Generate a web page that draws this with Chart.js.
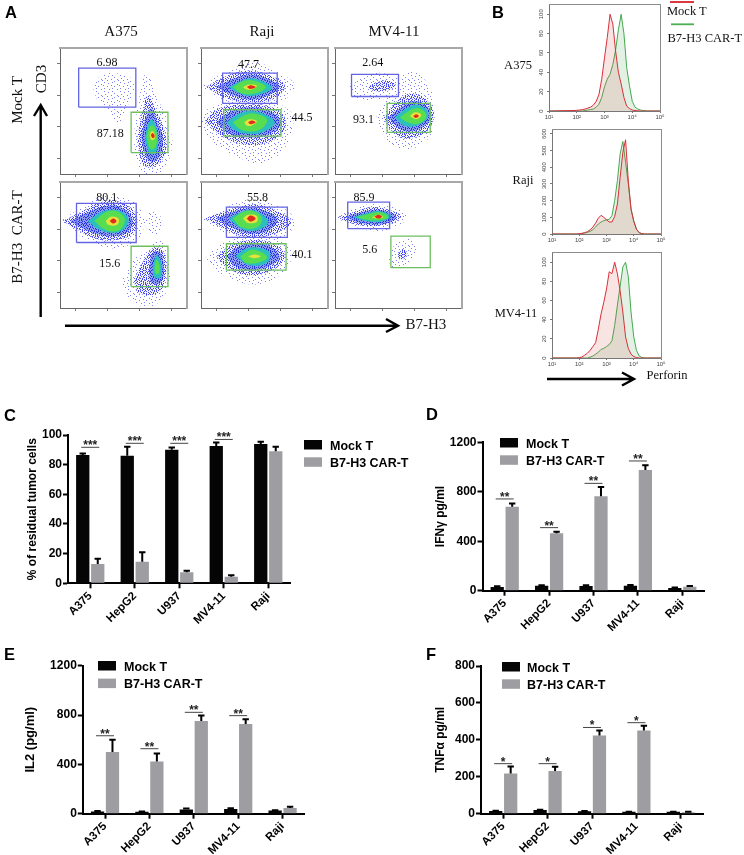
<!DOCTYPE html>
<html>
<head>
<meta charset="utf-8">
<title>B7-H3 CAR-T</title>
<script src="https://cdn.jsdelivr.net/npm/chart.js@4"></script>
<style>
  html, body { margin: 0; background: #fff; }
  #page { position: relative; width: 744px; height: 855px; overflow: hidden; }
  canvas { position: absolute; filter: blur(.4px); }
  svg { position: absolute; left: 0; top: 0; filter: blur(.3px); }
  .serif { font: 12.5px "Liberation Serif"; fill: #111; }
  .big { font-size: 15px; }
  .tag { font: bold 16.5px "Liberation Sans"; fill: #000; }
</style>
</head>
<body>
<div id="page">
<svg width="744" height="855">
  <text class="tag" x="5" y="18">A</text>
  <text class="tag" x="492" y="18">B</text>
  <text class="tag" x="4" y="421">C</text>
  <text class="tag" x="426" y="420">D</text>
  <text class="tag" x="4" y="660">E</text>
  <text class="tag" x="426" y="660">F</text>

  <text class="serif big" x="121" y="36" text-anchor="middle">A375</text>
  <text class="serif big" x="262" y="36" text-anchor="middle">Raji</text>
  <text class="serif big" x="394" y="36" text-anchor="middle">MV4-11</text>
  <text class="serif big" transform="translate(22,100) rotate(-90)" text-anchor="middle">Mock T</text>
  <text class="serif big" transform="translate(22,237) rotate(-90)" text-anchor="middle" xml:space="preserve">B7-H3  CAR-T</text>
  <text class="serif big" transform="translate(46,79) rotate(-90)" text-anchor="middle">CD3</text>
  <text class="serif big" x="405.5" y="329">B7-H3</text>

  <g stroke="#000" stroke-width="2.4" fill="none">
    <path d="M40.7 317V105M34 116L40.7 105L47 116"/>
    <path d="M65 325.7H398M386 319L398 325.7L386 332"/>
    <path d="M547 379H634M622 372.5L634 379L622 385.5"/>
  </g>

  <text class="serif" x="518" y="69" text-anchor="middle">A375</text>
  <text class="serif" x="523" y="184" text-anchor="middle">Raji</text>
  <text class="serif" x="516" y="317" text-anchor="middle">MV4-11</text>
  <text class="serif" x="667" y="15">Mock T</text>
  <text class="serif" x="667.5" y="42">B7-H3 CAR-T</text>
  <text class="serif" x="646.5" y="379">Perforin</text>
  <path d="M670 2H694" stroke="#d8232a" stroke-width="1.8"/>
  <path d="M671 24.3H694" stroke="#4caf50" stroke-width="1.8"/>
</svg>
</div>

<script>
// bar panels
const cellLines = ['A375', 'HepG2', 'U937', 'MV4-11', 'Raji']

const lysisMock = [86.5, 86, 90, 92.5, 94]
const lysisMockErr = [1, 6, 1.5, 2.5, 1.5]
const lysisCar = [13, 14.5, 7.5, 4.5, 89]
const lysisCarErr = [3.5, 6.5, 1, 1, 3]
const lysisSig = [91.7, 94.4, 94.4, 97]

const ifnMock = [30, 40, 38, 40, 22]
const ifnMockErr = [5, 4, 6, 6, 3]
const ifnCar = [679, 464, 763, 976, 32]
const ifnCarErr = [26, 13, 76, 38, 6]
const ifnSig = [742, 510, 868, 1049]

const il2Mock = [17, 15, 35, 38, 25]
const il2MockErr = [4, 3, 8, 6, 2]
const il2Car = [500, 424, 751, 727, 46]
const il2CarErr = [100, 65, 46, 38, 10]
const il2Sig = [632, 527, 822, 795]

const tnfMock = [14, 20, 13, 10, 10]
const tnfMockErr = [2, 2, 2, 1, 1]
const tnfCar = [218, 231, 424, 451, 8]
const tnfCarErr = [38, 23, 27, 25, 3]
const tnfSig = [271, 271, 467, 493]

// histograms, x is log10 of perforin
const perforinBins = [1, 1.9, 2, 2.1, 2.2, 2.3, 2.4, 2.5, 2.6, 2.7, 2.8, 2.9, 3, 3.1, 3.2, 3.3, 3.4, 3.5, 3.6, 3.7, 3.8, 3.9, 4, 4.1, 4.2, 4.3, 4.4, 4.5, 4.6, 5]
const a375Mock = [0, .5, .7, 1, 1.5, 2, 3, 4, 6, 10, 17, 33, 55, 76, 100, 90, 62, 40, 28, 14, 5, 2.5, 1, .5, .2, 0, 0, 0, 0, 0]
const a375Car = [0, 0, 0, 0, 0, .5, 1, 1.5, 2, 4, 7, 14, 25, 33, 38, 48, 63, 84, 100, 80, 45, 26, 10, 4, 2, 1, .5, 0, 0, 0]
const rajiMock = [0, 0, 2, 4, 8, 14, 25, 42, 65, 95, 112, 100, 85, 72, 72, 105, 180, 340, 490, 565, 320, 150, 75, 28, 8, 2, 0, 0, 0, 0]
const rajiCar = [0, 0, 1, 3, 6, 10, 16, 26, 42, 60, 72, 80, 85, 88, 110, 200, 320, 480, 555, 430, 300, 150, 80, 30, 8, 2, 0, 0, 0, 0]
const mv4Mock = [0, 0, .5, 1, 3, 5, 8, 12, 16, 30, 46, 58, 72, 90, 88, 100, 88, 70, 48, 22, 10, 4, 1.5, .5, 0, 0, 0, 0, 0, 0]
const mv4Car = [0, 0, 0, 0, 0, 0, 1, 2, 4, 6, 9, 10, 12, 14, 18, 34, 55, 75, 95, 100, 85, 48, 22, 8, 2, .5, 0, 0, 0, 0]

// flow plots: contour outlines, [level, [x, y, x, y...]], both axes 0-100
const a375MockCloud = [
  [0, [26,68, 32,78, 44,80, 56,76, 58,64, 52,52, 46,40, 38,50, 30,58]],
  [0, [34,68, 40,74, 48,75, 53,69, 48,61, 42,58, 36,61]],
  [0, [58,30, 62,58, 68,80, 76,62, 86,38, 88,20, 80,2, 66,0, 60,12]],
  [1, [61,30, 65,50, 69,62, 75,52, 83,32, 82,14, 72,5, 64,10]],
  [2, [64,30, 68,46, 72,52, 77,40, 81,28, 78,13, 71,10, 66,18]],
  [3, [67,30, 70,41, 73,43, 77,31, 76,18, 71,16, 68,23]],
  [4, [68,30, 71,38, 74,38, 76.5,30, 75,21, 71,20]],
  [5, [70.5,31, 72,34, 74,33, 74.5,28, 72,27]],
  [6, [71.5,31, 73,32.5, 74.5,30, 73,28.5]],
]
const rajiMockCloud = [
  [0, [0,69, 12,77, 30,86, 45,88, 62,80, 74,70, 64,58, 45,54, 25,56, 10,63]],
  [1, [4,69, 18,77, 36,82, 55,78, 66,70, 58,60, 40,57, 20,60]],
  [2, [12,69, 26,76, 40,79, 54,75, 62,69, 52,62, 38,59, 24,63]],
  [3, [22,69, 32,74, 40,76, 50,73, 56,68, 46,63, 37,62, 28,65]],
  [4, [25,69, 34,74, 42,74, 51,69, 43,64, 32,64]],
  [5, [33,69, 38,71, 44,70, 40,67, 35,67.5]],
  [6, [36,69, 39,70.5, 43,69, 39,67.5]],
  [0, [0,42, 8,54, 25,57, 50,58, 70,50, 72,36, 62,16, 45,8, 28,14, 6,28]],
  [1, [3,42, 14,52, 35,55, 56,53, 67,42, 60,29, 40,23, 18,29]],
  [2, [12,41, 24,50, 40,53, 56,49, 63,40, 54,32, 38,29, 22,32]],
  [3, [20,41, 30,48, 40,50, 53,46, 58,40, 48,33, 36,32, 26,35]],
  [4, [25,41, 35,47, 42,48, 52,43, 46,35, 32,35]],
  [5, [34,41, 38,43.5, 44,42, 40,38.5, 36,38.5]],
  [6, [37,41, 40,42.5, 43,41, 39,39.5]],
]
const mv4MockCloud = [
  [0, [11,69, 24,78, 38,80, 52,73, 50,63, 32,59, 16,61]],
  [1, [26,69, 33,73, 42,74, 48,70, 40,66, 30,66]],
  [0, [32,44, 40,60, 50,74, 60,82, 74,70, 78,52, 76,32, 60,20, 42,26]],
  [1, [38,45, 47,56, 60,64, 73,58, 78,46, 72,34, 56,28, 44,35]],
  [2, [42,45, 52,53, 62,58, 72,54, 76,46, 69,37, 56,34, 47,39]],
  [3, [47,45, 56,52, 64,55, 72,51, 73,45, 66,39, 55,38]],
  [4, [51,45, 60,51, 67,52, 72,46, 66,40, 57,41]],
  [5, [59,46, 63,49, 68,47, 64,43.5]],
  [6, [61.5,46, 64,47.5, 66,46, 63.5,44.5]],
]
const a375CarCloud = [
  [0, [0,69, 14,78, 30,88, 48,88, 64,78, 64,58, 48,48, 30,50, 12,60]],
  [1, [2,69, 16,76, 32,84, 48,84, 60,74, 58,60, 44,54, 28,55, 12,63]],
  [2, [8,69, 22,76, 36,81, 48,80, 57,71, 54,61, 42,57, 28,59, 16,64]],
  [3, [22,69, 32,76, 42,78, 51,75, 54,68, 48,61, 38,60, 29,63]],
  [4, [27,69, 36,76, 44,77, 51,71, 47,62, 36,62]],
  [5, [36,69, 40,72.5, 46,71, 45,66, 38,66]],
  [6, [39,69, 42,71, 44.5,69, 42,67]],
  [0, [66,68, 71,76, 79,73, 80,63, 73,58]],
  [0, [70,67, 74,72, 78,67, 74,62]],
  [0, [48,20, 58,38, 68,46, 78,54, 86,38, 85,16, 74,2, 58,4]],
  [1, [58,22, 65,36, 74,48, 82,44, 83,24, 77,12, 62,12]],
  [2, [70,30, 73,44, 79,44, 82,30, 79,20, 72,20]],
  [3, [73,32, 76,42, 80,34, 79,24, 74,25]],
  [4, [74.5,32, 76,38, 78.5,33, 77.5,27, 75,28]],
]
const rajiCarCloud = [
  [0, [0,71, 14,76, 28,84, 44,86, 64,80, 74,68, 64,56, 42,53, 22,58, 10,65]],
  [1, [3,71, 16,76, 32,81, 46,82, 62,76, 71,68, 58,59, 38,56, 20,62]],
  [2, [12,71, 24,76, 36,79, 48,78, 60,71, 54,62, 38,59, 24,64]],
  [3, [22,71, 29,75, 38,78, 47,75, 53,68, 45,62, 34,62, 26,67]],
  [4, [25,71, 33,76, 41,77, 48,71, 44,64, 32,64]],
  [5, [33,71, 37,74, 44,73, 44,68.5, 37,67.5]],
  [6, [36,71, 39,73.5, 43,71, 39,68.5]],
  [0, [3,41, 18,52, 32,56, 52,56, 70,47, 68,32, 50,20, 32,20, 12,30]],
  [1, [12,41, 24,50, 40,54, 58,51, 66,41, 58,31, 40,26, 22,31]],
  [2, [20,41, 30,49, 42,52, 56,48, 62,40, 53,33, 38,30, 26,34]],
  [3, [27,41, 35,47, 44,48, 54,44, 52,36, 38,34]],
  [4, [31,41, 39,46, 46,45, 52,40, 45,36, 35,36]],
  [5, [37,41, 42,42.5, 47,41, 42,39.5]],
]
const mv4CarCloud = [
  [0, [0,72, 10,77, 24,82, 42,81, 56,74, 50,65, 30,61, 10,67]],
  [1, [2,72, 14,76, 28,80, 42,78, 52,73, 44,67, 26,65, 10,68]],
  [2, [8,72, 20,76, 32,78, 44,76, 48,72, 40,67, 22,67]],
  [3, [14,72, 24,75, 34,77, 44,73, 36,68.5, 24,69]],
  [4, [17,72, 28,75, 36,76, 42,72, 33,69.5, 23,70.5]],
  [5, [29,72, 34,74, 38,72, 33,71]],
  [6, [31,72.5, 34,74, 37,72.5, 34,71]],
  [0, [42,42, 49,52, 60,55, 64,44, 55,34, 45,32]],
  [0, [47,42, 52,49, 59,49, 59,41, 52,36]],
  [1, [49,42, 54,47, 57,42, 52,38]],
]

// gates [x0, x1, y0, y1]
const a375MockGates = [[14.7, 59.7, 53, 84], [56, 85, 17, 49]]
const rajiMockGates = [[17, 60, 56, 80], [18, 63, 30, 51]]
const mv4MockGates = [[13, 50, 61.5, 79], [41, 75, 33, 56]]
const a375CarGates = [[13, 60, 52, 83], [56, 85, 17, 49]]
const rajiCarGates = [[20, 68, 56, 80], [20, 67, 30, 51]]
const mv4CarGates = [[10, 43, 63, 84], [44, 75, 32, 57]]

// percent labels [x, y, text]
const a375MockNotes = [[37.1, 88.4, '6.98'], [39.5, 31.8, '87.18']]
const rajiMockNotes = [[37.4, 86.6, '47.7'], [79.5, 44.7, '44.5']]
const mv4MockNotes = [[29.8, 87.9, '2.64'], [22.4, 42.9, '93.1']]
const a375CarNotes = [[36.8, 87.6, '80.1'], [39.2, 34.7, '15.6']]
const rajiCarNotes = [[44.5, 87.6, '55.8'], [79.5, 41.9, '40.1']]
const mv4CarNotes = [[22.9, 87.6, '85.9'], [27.3, 46.1, '5.6']]

const flowTicks = [12.5, 37.5, 62.5, 87.5]
const BLACK = '#050505'
const GREY = '#9e9da2'
const SANS = 'Liberation Sans'
const SERIF = 'Liberation Serif'

const sparseTile = [
  '................',
  '..#.......#.....',
  '......#.........',
  '............#...',
  '...#............',
  '.........#.....#',
  '#....#..........',
  '............#...',
  '..#.......#.....',
  '......#.........',
  '...............#',
  '.#.......#......',
  '.....#......#...',
  '................',
  '..#.......#.....',
  '.......#.......#',
]
const denseTile = [
  '#..#.#..#..#.#..',
  '.#....#..#...#.#',
  '..#.#...#..#..#.',
  '#...#.#...#.#...',
  '.#.#...#.#....#.',
  '...#.#....#.#..#',
  '#.#...#.#...#.#.',
  '..#.#...#.#.#...',
  '.#...#.#...#..#.',
  '#..#...#.#...#.#',
  '..#..#...#.#....',
  '.#.#...#...#.#.#',
  '#...#.#..#.#....',
  '..#...#.#...#.#.',
  '.#.#.#...#.#...#',
  '#.....#.#...#.#.',
]

function speckle(color, rows, under) {
  const tile = document.createElement('canvas')
  tile.width = tile.height = 16
  const c = tile.getContext('2d')
  if (under) {
    c.fillStyle = under
    c.fillRect(0, 0, 16, 16)
  }
  c.fillStyle = color
  rows.forEach((row, y) => [...row].forEach((ch, x) => { if (ch === '#') c.fillRect(x, y, 1, 1) }))
  return c.createPattern(tile, 'repeat')
}

const levelFills = [
  speckle('#7a80f0', sparseTile),
  speckle('#4044ea', denseTile, 'rgba(140,150,245,.1)'),
  speckle('#2030dc', denseTile, 'rgba(80,100,238,.6)'),
  '#2cc0bc',
  '#58dc50',
  '#e6e23c',
  '#e02c1e',
]

function place(canvas, box) {
  canvas.width = box[2]
  canvas.height = box[3]
  canvas.style.left = box[0] + 'px'
  canvas.style.top = box[1] + 'px'
  document.getElementById('page').appendChild(canvas)
  return canvas
}

function toPoints(flat) {
  const pts = []
  for (let i = 0; i < flat.length; i += 2) pts.push({ x: flat[i], y: flat[i + 1] })
  pts.push({ ...pts[0] })
  return pts
}

const noteText = {
  id: 'noteText',
  afterDatasetsDraw(chart, _, opts) {
    const { ctx, scales } = chart
    ctx.save()
    ctx.font = `12px "${SERIF}"`
    ctx.fillStyle = '#111'
    ctx.textAlign = 'center'
    ctx.textBaseline = 'middle'
    opts.notes.forEach(([x, y, t]) => ctx.fillText(t, scales.x.getPixelForValue(x), scales.y.getPixelForValue(y)))
    ctx.restore()
  },
}

function flowPlot(plot, cloud, gates, notes) {
  const m = 6
  const fix = (s) => { if (s.isHorizontal()) s.height = m; else s.width = m }
  const datasets = cloud.map(([level, flat]) => ({
    data: toPoints(flat),
    showLine: true,
    fill: 'shape',
    tension: 0.4,
    backgroundColor: levelFills[level],
    borderWidth: 0,
    pointRadius: 0,
    order: 10 - level,
  }))
  gates.forEach(([x0, x1, y0, y1], i) => datasets.push({
    data: [{ x: x0, y: y0 }, { x: x1, y: y0 }, { x: x1, y: y1 }, { x: x0, y: y1 }, { x: x0, y: y0 }],
    showLine: true,
    borderColor: i === 0 ? '#6464e4' : '#6dbf5e',
    borderWidth: 1.3,
    pointRadius: 0,
    order: 0,
  }))
  const edge = (position) => ({
    type: 'linear', position, min: 0, max: 100, afterFit: fix,
    ticks: { display: false },
    grid: { display: false, drawTicks: false },
    border: { color: '#a8a8a8', width: 2 },
  })
  const axis = (position) => ({
    type: 'linear', position, min: 0, max: 100, afterFit: fix,
    afterBuildTicks: (s) => { s.ticks = flowTicks.map((value) => ({ value })) },
    ticks: { display: false },
    grid: { drawOnChartArea: false, tickLength: 3, tickColor: '#777', tickWidth: 1 },
    border: { color: '#666', width: 1 },
  })
  const box = [plot[0] - m, plot[1] - m, plot[2] - plot[0] + 2 * m, plot[3] - plot[1] + 2 * m]
  new Chart(place(document.createElement('canvas'), box), {
    type: 'scatter',
    data: { datasets },
    options: {
      responsive: false,
      animation: false,
      layout: { padding: 0 },
      scales: { x: axis('bottom'), y: axis('left'), xTop: edge('top'), yRight: edge('right') },
      plugins: { legend: { display: false }, tooltip: { enabled: false }, noteText: { notes } },
    },
    plugins: [noteText],
  })
}

flowPlot([60, 47.5, 187, 174], a375MockCloud, a375MockGates, a375MockNotes)
flowPlot([201, 47.5, 328, 174], rajiMockCloud, rajiMockGates, rajiMockNotes)
flowPlot([335, 47.5, 462, 174], mv4MockCloud, mv4MockGates, mv4MockNotes)
flowPlot([60, 182, 187, 308], a375CarCloud, a375CarGates, a375CarNotes)
flowPlot([201, 182, 328, 308], rajiCarCloud, rajiCarGates, rajiCarNotes)
flowPlot([335, 182, 462, 308], mv4CarCloud, mv4CarGates, mv4CarNotes)

const POWERS = { 1: '10¹', 2: '10²', 3: '10³', 4: '10⁴', 5: '10⁵' }

function histPlot(plot, mock, car, yMax, yStep) {
  const [l, t, r, b] = plot
  const box = [l - 18, t - 2, r - l + 24, b - t + 16]
  const curve = (values, line, fillColor) => ({
    data: perforinBins.map((x, i) => ({ x, y: values[i] })),
    showLine: true,
    fill: 'origin',
    tension: 0,
    borderColor: line,
    borderWidth: 1,
    backgroundColor: fillColor,
    pointRadius: 0,
  })
  const edge = (position) => ({
    type: 'linear', position, min: 0, max: 1,
    afterFit: (s) => { if (position === 'top') s.height = 2; else s.width = 6 },
    ticks: { display: false },
    grid: { display: false, drawTicks: false },
    border: { color: '#8c8c8c', width: 1 },
  })
  new Chart(place(document.createElement('canvas'), box), {
    type: 'scatter',
    data: { datasets: [curve(mock, '#d8303a', 'rgba(214,90,80,.16)'), curve(car, '#45a94e', 'rgba(70,160,80,.15)')] },
    options: {
      responsive: false,
      animation: false,
      layout: { padding: 0 },
      scales: {
        x: {
          type: 'linear', min: 1, max: 5,
          afterFit: (s) => { s.height = 14 },
          ticks: { stepSize: 1, font: { size: 6, family: SANS }, color: '#444', padding: 1, maxRotation: 0, callback: (v) => POWERS[v] },
          grid: { drawOnChartArea: false, tickLength: 2, tickColor: '#777' },
          border: { color: '#777', width: 1 },
        },
        y: {
          type: 'linear', min: 0, max: yMax,
          afterFit: (s) => { s.width = 18 },
          ticks: { stepSize: yStep, includeBounds: false, font: { size: 6, family: SANS }, color: '#444', padding: 1, minRotation: 90, maxRotation: 90, crossAlign: 'center' },
          grid: { drawOnChartArea: false, tickLength: 2, tickColor: '#777' },
          border: { color: '#777', width: 1 },
        },
        xTop: edge('top'),
        yRight: edge('right'),
      },
      plugins: { legend: { display: false }, tooltip: { enabled: false } },
    },
  })
}

histPlot([549, 2, 660, 111], a375Mock, a375Car, 110, 20)
histPlot([552, 126.7, 661.7, 234.7], rajiMock, rajiCar, 626, 100)
histPlot([552, 250, 661.7, 358], mv4Mock, mv4Car, 110, 20)

// error bars, significance lines and the legend for the bar panels
const barMarks = {
  id: 'barMarks',
  afterDatasetsDraw(chart, _, opts) {
    const { ctx, scales } = chart
    ctx.save()
    ctx.strokeStyle = '#000'
    chart.data.datasets.forEach((ds, d) => {
      const bars = chart.getDatasetMeta(d).data
      ds.errors.forEach((err, i) => {
        const x = bars[i].x
        const y0 = scales.y.getPixelForValue(ds.data[i])
        const y1 = scales.y.getPixelForValue(ds.data[i] + err)
        ctx.lineWidth = 2
        ctx.beginPath()
        ctx.moveTo(x, y0)
        ctx.lineTo(x, y1)
        ctx.moveTo(x - 3.2, y1)
        ctx.lineTo(x + 3.2, y1)
        ctx.stroke()
      })
    })
    opts.sig.forEach((v, i) => {
      const x = scales.x.getPixelForValue(i)
      const y = scales.y.getPixelForValue(v)
      ctx.strokeStyle = '#444'
      ctx.lineWidth = 1
      ctx.beginPath()
      ctx.moveTo(x - 9, y)
      ctx.lineTo(x + 9, y)
      ctx.stroke()
      ctx.fillStyle = '#222'
      ctx.font = `bold 12px "${SANS}"`
      ctx.textAlign = 'center'
      ctx.textBaseline = 'alphabetic'
      ctx.fillText(opts.stars, x, y + 2)
    })
    const [lx, ly, rowGap, textX] = opts.legend
    chart.data.datasets.forEach((ds, d) => {
      const top = ly + d * rowGap
      ctx.fillStyle = ds.backgroundColor
      ctx.fillRect(lx, top, 18, 9.5)
      ctx.fillStyle = '#000'
      ctx.font = `bold 12.5px "${SANS}"`
      ctx.textAlign = 'left'
      ctx.textBaseline = 'alphabetic'
      ctx.fillText(ds.label, textX, top + 9.5)
    })
    ctx.restore()
  },
}

function barPlot(box, plot, spec) {
  const [cx, cy, cw, ch] = box
  const [l, t, r, b] = plot
  const dataset = (label, data, errors, color) => ({
    label, data, errors,
    backgroundColor: color,
    categoryPercentage: 0.674,
    barPercentage: 0.887,
  })
  new Chart(place(document.createElement('canvas'), box), {
    type: 'bar',
    data: {
      labels: cellLines,
      datasets: [dataset('Mock T', spec.mock, spec.mockErr, BLACK), dataset('B7-H3 CAR-T', spec.car, spec.carErr, GREY)],
    },
    options: {
      responsive: false,
      animation: false,
      layout: { padding: { top: t - cy, right: cx + cw - r } },
      scales: {
        x: {
          afterFit: (s) => { s.height = cy + ch - b },
          ticks: { autoSkip: false, minRotation: 45, maxRotation: 45, padding: 1, color: '#000', font: { family: SANS, weight: 'bold', size: 11.5 } },
          grid: { offset: false, drawOnChartArea: false, tickLength: 5, tickColor: '#000', tickWidth: 2 },
          border: { color: '#000', width: 2 },
        },
        y: {
          min: 0, max: spec.max,
          afterFit: (s) => { s.width = l - cx },
          ticks: { stepSize: spec.step, padding: 1, color: '#000', font: { family: SANS, weight: 'bold', size: 12 }, callback: (v) => String(v) },
          title: { display: true, text: spec.title, color: '#000', padding: 0, font: { family: SANS, weight: 'bold', size: spec.titleSize } },
          grid: { drawOnChartArea: false, tickLength: 5, tickColor: '#000', tickWidth: 2 },
          border: { color: '#000', width: 2 },
        },
      },
      plugins: {
        legend: { display: false },
        tooltip: { enabled: false },
        barMarks: { sig: spec.sig, stars: spec.stars, legend: [spec.legend[0] - cx, spec.legend[1] - cy, spec.legend[2], spec.legend[3] - cx] },
      },
    },
    plugins: [barMarks],
  })
}

barPlot([25, 422, 410, 208], [68, 435, 290.5, 583.3], {
  mock: lysisMock, mockErr: lysisMockErr, car: lysisCar, carErr: lysisCarErr, sig: lysisSig,
  stars: '***', max: 100, step: 20, title: '% of residual tumor cells', titleSize: 12, legend: [304, 440, 17.3, 330],
})
barPlot([433, 430, 311, 205], [482.5, 442.3, 704.5, 590.7], {
  mock: ifnMock, mockErr: ifnMockErr, car: ifnCar, carErr: ifnCarErr, sig: ifnSig,
  stars: '**', max: 1200, step: 400, title: 'IFNγ pg/ml', titleSize: 12, legend: [500, 438, 17.3, 526],
})
barPlot([23, 652, 300, 203], [82.8, 665.7, 304.8, 813.7], {
  mock: il2Mock, mockErr: il2MockErr, car: il2Car, carErr: il2CarErr, sig: il2Sig,
  stars: '**', max: 1200, step: 400, title: 'IL2 (pg/ml)', titleSize: 13, legend: [98, 661, 17.6, 124],
})
barPlot([433, 652, 311, 203], [481, 666, 703, 813.7], {
  mock: tnfMock, mockErr: tnfMockErr, car: tnfCar, carErr: tnfCarErr, sig: tnfSig,
  stars: '*', max: 800, step: 200, title: 'TNFα pg/ml', titleSize: 12, legend: [502, 662, 17.3, 527],
})
</script>
</body>
</html>
